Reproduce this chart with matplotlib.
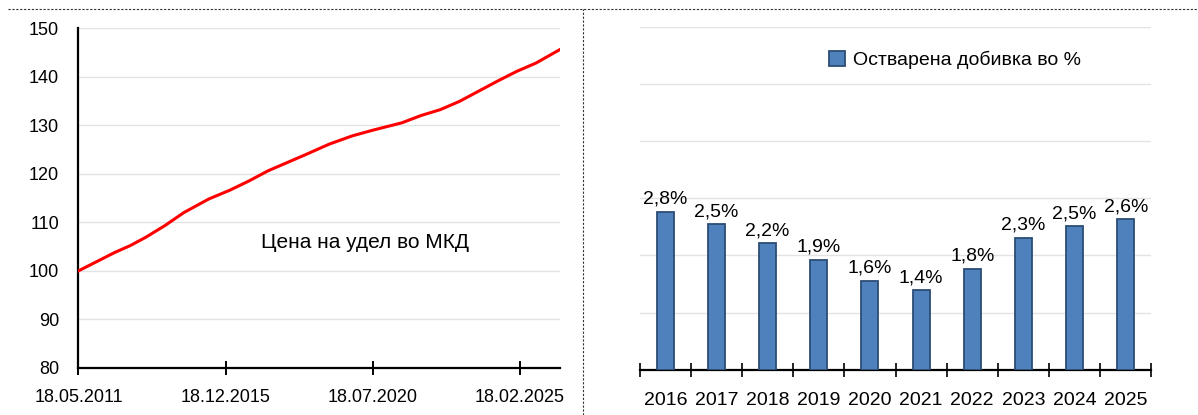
import matplotlib
matplotlib.use("Agg")
import matplotlib.pyplot as plt
import matplotlib.patches as mpatches
import matplotlib.dates as mdates
import matplotlib.lines as mlines
import numpy as np
import pandas as pd

plt.rcParams.update({
    "font.family": ["Liberation Sans Narrow", "Liberation Sans", "DejaVu Sans"],
    "figure.facecolor": "white",
    "axes.facecolor": "white",
})

# ── данни: цена на удел ─────────────────────────────────────
price_dates = pd.to_datetime([
    "2011-05-18", "2012-07-05", "2012-12-27", "2013-06-20", "2014-01-24",
    "2014-08-29", "2015-06-09", "2016-02-02", "2016-09-07", "2017-04-13",
    "2017-11-17", "2018-06-23", "2019-03-11", "2019-11-28", "2020-07-25",
    "2021-06-16", "2022-01-20", "2022-08-26", "2023-04-01", "2023-11-05",
    "2024-06-10", "2025-01-14", "2025-08-20", "2026-05-21",
])
price_values = [
    100.0, 103.8, 105.2, 106.9, 109.3,
    112.0, 114.8, 116.6, 118.5, 120.6,
    122.3, 124.0, 126.1, 127.8, 129.0,
    130.5, 132.0, 133.2, 134.9, 137.0,
    139.1, 141.1, 142.8, 145.6,
]
date_ticks = pd.to_datetime(["2011-05-18", "2015-12-18", "2020-07-18", "2025-02-18"])
date_tick_labels = ["18.05.2011", "18.12.2015", "18.07.2020", "18.02.2025"]

# ── данни: остварена добивка ────────────────────────────────
years = ["2016", "2017", "2018", "2019", "2020", "2021", "2022", "2023", "2024", "2025"]
yields = [2.76, 2.54, 2.21, 1.92, 1.56, 1.39, 1.76, 2.31, 2.51, 2.63]

fig = plt.figure(figsize=(11.98, 4.15), dpi=100)

# ── лев графикон ────────────────────────────────────────────
ax1 = fig.add_axes([0.0655, 0.1133, 0.402, 0.819])
ax1.plot(price_dates, price_values, color="#FF0000", lw=2.2, zorder=3)
ax1.set_ylim(80, 150)
ax1.set_yticks(np.arange(80, 151, 10))
ax1.set_xlim(price_dates[0], price_dates[-1])
ax1.set_xticks(date_ticks)
ax1.set_xticklabels(date_tick_labels)
ax1.grid(axis="y", color="#E3E3E3", lw=1.0, zorder=0)
for s in ["top", "right"]:
    ax1.spines[s].set_visible(False)
for s in ["left", "bottom"]:
    ax1.spines[s].set_linewidth(1.6)
    ax1.spines[s].set_color("black")
ax1.tick_params(axis="y", length=0, pad=14, labelsize=13)
ax1.tick_params(axis="x", direction="inout", length=10, width=1.4, pad=10, labelsize=13)
ax1.text(0.38, 0.37, "Цена на удел во МКД", transform=ax1.transAxes,
         fontsize=15, ha="left", va="center")

# ── десен графикон ──────────────────────────────────────────
ax2 = fig.add_axes([0.534, 0.109, 0.427, 0.827])
x = np.arange(len(years))
bars = ax2.bar(x, yields, width=0.33, color="#4F81BD", edgecolor="#2C4D75",
               lw=1.3, zorder=3)
for b, v in zip(bars, yields):
    ax2.annotate(f"{v:.1f}%".replace(".", ","),
                 (b.get_x() + b.get_width() / 2, v),
                 xytext=(0, 3), textcoords="offset points",
                 ha="center", va="bottom", fontsize=14)
ax2.set_xlim(-0.5, len(years) - 0.5)
ax2.set_ylim(0, 6)
ax2.set_yticks(np.arange(1, 7, 1))
ax2.grid(axis="y", color="#E3E3E3", lw=1.0, zorder=0)
ax2.tick_params(axis="y", length=0, labelleft=False)
ax2.set_xticks(x)
ax2.set_xticklabels(years)
ax2.set_xticks(np.arange(-0.5, len(years)), minor=True)
ax2.tick_params(axis="x", which="major", length=0, pad=16, labelsize=14)
ax2.tick_params(axis="x", which="minor", direction="inout", length=10, width=1.2)
for s in ["top", "right", "left"]:
    ax2.spines[s].set_visible(False)
ax2.spines["bottom"].set_linewidth(1.6)
ax2.spines["bottom"].set_color("black")

handle = mpatches.Patch(facecolor="#4F81BD", edgecolor="#2C4D75", lw=1.3,
                        label="Остварена добивка во %")
fig.legend(handles=[handle], loc="center", bbox_to_anchor=(955 / 1198, 1 - 60 / 415),
           frameon=False, fontsize=14, handlelength=0.8, handleheight=0.8,
           handletextpad=0.4)

# ── испрекинати рамки ───────────────────────────────────────
fig.add_artist(mlines.Line2D([8 / 1198, 1.0], [1 - 9 / 415, 1 - 9 / 415],
                             transform=fig.transFigure, color="#333333",
                             lw=0.8, ls=(0, (2, 1.5))))
fig.add_artist(mlines.Line2D([583 / 1198, 583 / 1198], [0, 1 - 9 / 415],
                             transform=fig.transFigure, color="#333333",
                             lw=0.8, ls=(0, (2, 1.5))))

fig.savefig("out.png", dpi=100, facecolor="white")
